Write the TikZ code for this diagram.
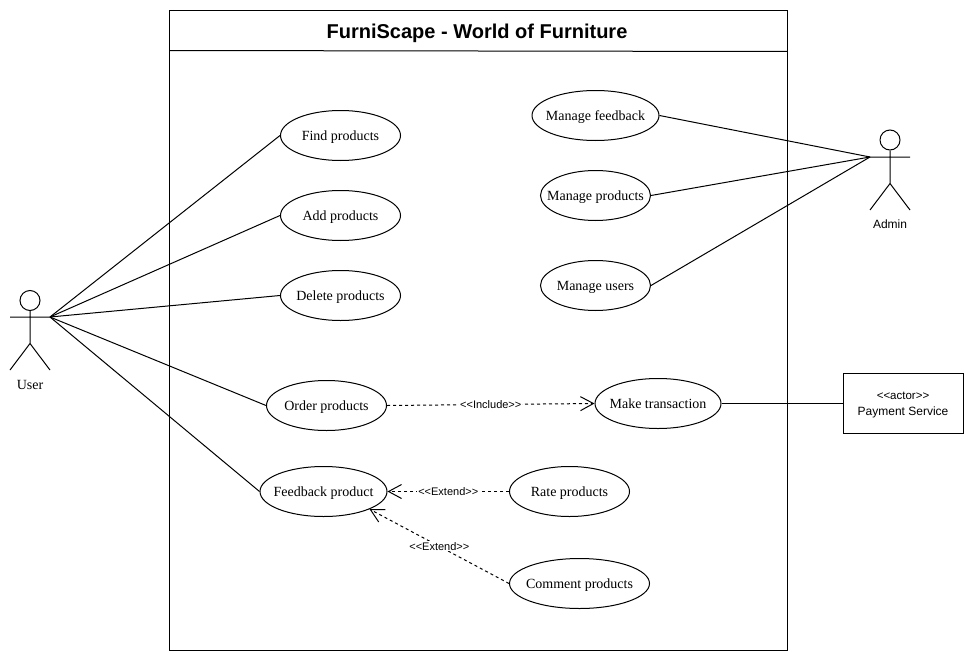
\documentclass[tikz,border=0pt]{standalone}
\usepackage{fontspec}
\setmainfont{Liberation Serif}
\newfontfamily\labelfont{Liberation Sans}
\usetikzlibrary{arrows.meta,shapes.geometric}

\begin{document}
\begin{tikzpicture}[x=1pt,y=-1pt,>={Straight Barb[length=13pt,width=14pt]},
    usecase/.style={draw,ellipse,inner xsep=-25pt,inner ysep=0pt,minimum height=50pt,text height=9pt,text depth=0pt,font=\fontsize{14}{16}\selectfont},
    stereo/.style={dashed,dash pattern=on 3pt off 3pt},
    stereolabel/.style={fill=white,inner sep=1pt,font=\labelfont\fontsize{11}{12}\selectfont},
    line width=1pt]
    \useasboundingbox (0.5,0.5) rectangle (974.5,661.5);
    \fill[white] (0.5,0.5) rectangle (974.5,661.5);

    % system box
    \node[draw,minimum width=618pt,minimum height=640pt,anchor=north west,inner sep=0pt] (system) at (169.5,10.5) {};
    \coordinate (titleleft) at (169.5,51);
    \coordinate (titleright) at (787.5,52);
    \draw (titleleft) -- (titleright);
    \node[font=\labelfont\bfseries\fontsize{20}{24}\selectfont] (title) at (477.5,33.5) {FurniScape - World of Furniture};

    % use cases
    \node[usecase,minimum width=120pt] (find) at (341,136) {Find products};
    \node[usecase,minimum width=120pt] (add) at (341,216) {Add products};
    \node[usecase,minimum width=120pt] (delete) at (341,296) {Delete products};
    \node[usecase,minimum width=120pt] (order) at (327,406) {Order products};
    \node[usecase,minimum width=127pt] (feedback) at (324,492) {Feedback product};
    \node[usecase,minimum width=120pt] (rate) at (570,492) {Rate products};
    \node[usecase,minimum width=140pt] (comment) at (580,584) {Comment products};
    \node[usecase,minimum width=126pt] (transaction) at (658.5,404) {Make transaction};
    \node[usecase,minimum width=127pt] (mfeedback) at (596,116) {Manage feedback};
    \node[usecase,minimum width=110pt] (mproducts) at (596,196) {Manage products};
    \node[usecase,minimum width=110pt] (musers) at (596,286) {Manage users};

    % user
    \node[draw,circle,minimum size=20pt,inner sep=0pt] (userhead) at (30.5,301) {};
    \coordinate (userhip) at (30.5,344);
    \coordinate (userlhand) at (10.5,317.5);
    \coordinate (userhand) at (50.5,317.5);
    \coordinate (userlfoot) at (10.5,370.5);
    \coordinate (userrfoot) at (50.5,370.5);
    \draw (userhead) -- (userhip) (userlhand) -- (userhand) (userlfoot) -- (userhip) -- (userrfoot);
    \node[font=\fontsize{14}{16}\selectfont] (userlabel) at (30.5,385.5) {User};

    % admin
    \node[draw,circle,minimum size=20pt,inner sep=0pt] (adminhead) at (890.5,140.5) {};
    \coordinate (adminhip) at (890.5,184);
    \coordinate (adminhand) at (870.5,157.5);
    \coordinate (adminrhand) at (910.5,157.5);
    \coordinate (adminlfoot) at (870.5,210.5);
    \coordinate (adminrfoot) at (910.5,210.5);
    \draw (adminhead) -- (adminhip) (adminhand) -- (adminrhand) (adminlfoot) -- (adminhip) -- (adminrfoot);
    \node[font=\labelfont\fontsize{12}{14}\selectfont] (adminlabel) at (890.5,224.5) {Admin};

    % payment service
    \node[draw,minimum width=120pt,minimum height=60pt,inner sep=0pt] (payment) at (903.5,404) {};
    \node[align=center,inner sep=0pt,font=\labelfont\fontsize{12}{16}\selectfont] (paymentlabel) at (903.5,406)
        {{\fontsize{11.5}{16}\selectfont <<actor>>}\\Payment Service};

    \draw (userhand) edge (find.west)
                     edge (add.west)
                     edge (delete.west)
                     edge (order.west)
                     edge (feedback.west)
          (adminhand) edge (mfeedback.east)
                      edge (mproducts.east)
                      edge (musers.east)
          (transaction) edge (payment);

    \draw[->,stereo] (order.east) -- node[stereolabel] (includelabel) {<<Include>>} (transaction.west);
    \draw[->,stereo] (rate.west) -- node[stereolabel] (extendrate) {<<Extend>>} (feedback.east);
    \draw[->,stereo] (comment.west) -- node[stereolabel] (extendcomment) {<<Extend>>} (feedback.-21);
\end{tikzpicture}
\end{document}
